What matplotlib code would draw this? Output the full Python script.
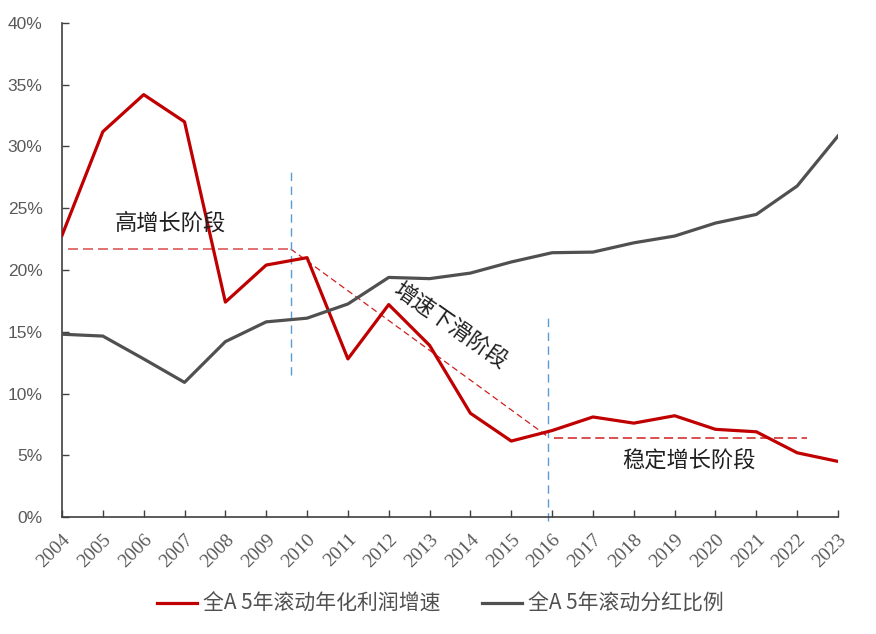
import matplotlib
matplotlib.use("Agg")
import matplotlib.pyplot as plt
from matplotlib.ticker import FuncFormatter, MultipleLocator
from matplotlib import font_manager

plt.rcParams['font.family'] = ['Noto Sans CJK SC', 'DejaVu Sans']

years = list(range(2004, 2024))
profit_growth = [22.8, 31.2, 34.2, 32.0, 17.4, 20.4, 21.0, 12.8, 17.2, 13.9,
                 8.4, 6.15, 7.0, 8.1, 7.6, 8.2, 7.1, 6.9, 5.2, 4.5]
payout_ratio = [14.8, 14.65, 12.8, 10.9, 14.2, 15.8, 16.1, 17.25, 19.4, 19.3,
                19.75, 20.65, 21.4, 21.45, 22.2, 22.75, 23.8, 24.5, 26.8, 30.85]
series_labels = ['全A 5年滚动年化利润增速', '全A 5年滚动分红比例']
stage_labels = ['高增长阶段', '增速下滑阶段', '稳定增长阶段']

# stage guide lines (year, value)
high_stage_x = [2004.15, 2009.6]
high_stage_y = [21.7, 21.7]
decline_x = [2009.6, 2015.9]
decline_y = [21.7, 6.5]
stable_x = [2016.05, 2022.25]
stable_y = [6.4, 6.4]
vline1_x, vline1_y = 2009.6, (11.5, 28.1)
vline2_x, vline2_y = 2015.9, (-0.3, 16.4)

installed = {f.name for f in font_manager.fontManager.ttflist}
ytick_family = 'Liberation Sans Narrow' if 'Liberation Sans Narrow' in installed else 'Liberation Sans'
ytick_size = 14 if ytick_family == 'Liberation Sans Narrow' else 12.5

fig = plt.figure(figsize=(8.76, 6.34), dpi=100)
ax = fig.add_axes([62/876, 1-517/634, (838-62)/876, (517-23)/634])

red = '#C00000'
gray = '#505050'
blue = '#5B9BD5'

ax.plot(years, profit_growth, color=red, lw=2.3, label=series_labels[0], zorder=3)
ax.plot(years, payout_ratio, color=gray, lw=2.3, label=series_labels[1], zorder=3)

ax.plot(high_stage_x, high_stage_y, color='#DC5A5A', lw=1.2, ls=(0, (6, 3)), zorder=2)
ax.plot(decline_x, decline_y, color='#D02020', lw=0.9, ls=(0, (5, 3)), zorder=2)
ax.plot(stable_x, stable_y, color='#D02020', lw=1.1, ls=(0, (6, 3)), zorder=2)
ax.plot([vline1_x, vline1_x], vline1_y, color=blue, lw=1.0, ls=(0, (6, 4)), zorder=2, clip_on=False)
ax.plot([vline2_x, vline2_x], vline2_y, color=blue, lw=1.0, ls=(0, (6, 4)), zorder=2, clip_on=False)

ax.text(2006.65, 23.8, stage_labels[0], fontsize=16, fontweight='light', color='#202020',
        ha='center', va='center')
ax.text(2013.5, 15.5, stage_labels[1], fontsize=16, fontweight='light', color='#202020',
        ha='center', va='center', rotation=-35, rotation_mode='anchor')
ax.text(2019.35, 4.55, stage_labels[2], fontsize=16, fontweight='light', color='#202020',
        ha='center', va='center')

ax.set_xlim(2004, 2023)
ax.set_ylim(0, 40)
ax.yaxis.set_major_locator(MultipleLocator(5))
ax.yaxis.set_major_formatter(FuncFormatter(lambda v, p: f'{v:.0f}%'))
ax.set_xticks(years)
ax.set_xticklabels([str(y) for y in years], rotation=45, ha='right', rotation_mode='anchor',
                   fontsize=14, color='#595959', family=['Liberation Serif'])
for lab in ax.get_yticklabels():
    lab.set_family([ytick_family])
    lab.set_fontsize(ytick_size)
    lab.set_color('#595959')

for s in ['top', 'right']:
    ax.spines[s].set_visible(False)
for s in ['left', 'bottom']:
    ax.spines[s].set_color('#404040')
    ax.spines[s].set_linewidth(1.2)
ax.tick_params(axis='both', direction='in', length=5, color='#404040', width=1.0)
ax.tick_params(axis='x', pad=10)
ax.tick_params(axis='y', pad=14)

leg = fig.legend(loc='center', bbox_to_anchor=(0.503, 1-604/634), ncol=2, frameon=False,
                 prop={'size': 15, 'weight': 'medium'}, handlelength=1.9, columnspacing=2.0,
                 handletextpad=0.3)
for t in leg.get_texts():
    t.set_color('#505050')

fig.savefig('out.png', dpi=100)
